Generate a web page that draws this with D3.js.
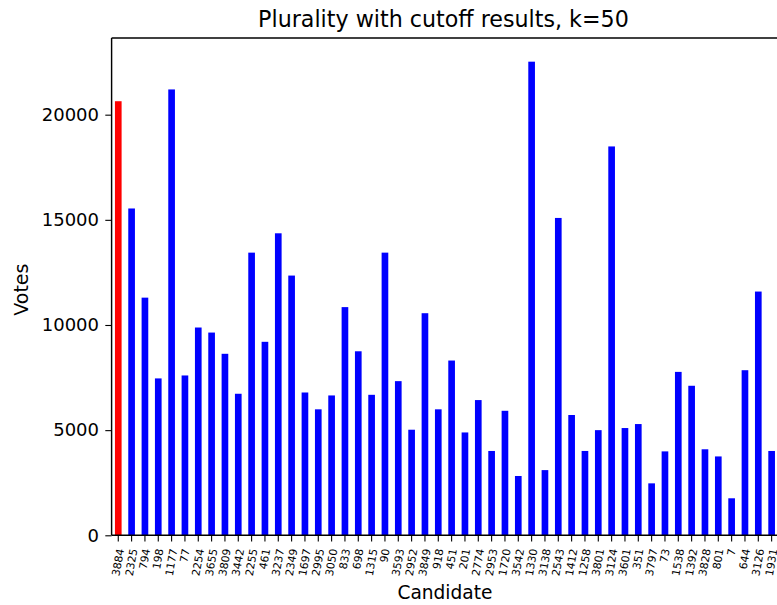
<!DOCTYPE html>
<html>
<head>
<meta charset="utf-8">
<script src="https://cdn.jsdelivr.net/npm/d3@7"></script>
<style>
  html, body { margin: 0; padding: 0; background: #fff; overflow: hidden; }
  svg { display: block; font-family: "DejaVu Sans", sans-serif; }
</style>
</head>
<body>
<svg id="chart" width="777" height="605"></svg>
<script>
const candidates = ["3884","2325","794","198","1177","77","2254","3655","3809","3442",
  "2255","461","3237","2349","1697","2995","3050","833","698","1315",
  "90","3593","2952","3849","918","451","201","2774","2953","1720",
  "3542","1330","3138","2543","1412","1258","3801","3124","3601","351",
  "3797","73","1538","1392","3828","801","7","644","3126","1931"];
const votes = [20640,15540,11300,7460,21200,7600,9880,9640,8630,6730,
  13440,9200,14360,12350,6790,5990,6650,10850,8750,6680,
  13440,7330,5020,10560,5990,8310,4890,6430,4010,5920,
  2820,22520,3100,15090,5720,4010,5000,18490,5100,5290,
  2470,3990,7770,7110,4090,3750,1760,7850,11590,4010];
const yTicks = [0, 5000, 10000, 15000, 20000];
const winnerIndex = 0;
const titleText = "Plurality with cutoff results, k=50";
const xLabel = "Candidate";
const yLabel = "Votes";

(function () {
const svg = d3.select("#chart");
const mLeft = 111.6, mRight = 778.3, mTop = 38, mBottom = 535.3;

const x = d3.scaleBand().domain(candidates).range([mLeft, mRight])
  .paddingInner(0.5).paddingOuter(0.25);
const y = d3.scaleLinear().domain([0, d3.max(votes) * 1.05]).range([mBottom, mTop]);

// bars
svg.append("g").selectAll("rect").data(candidates).join("rect")
  .attr("x", d => x(d))
  .attr("width", x.bandwidth())
  .attr("y", (d, i) => y(votes[i]))
  .attr("height", (d, i) => y(0) - y(votes[i]))
  .attr("fill", (d, i) => i === winnerIndex ? "#ff0000" : "#0000ff");

// y axis
const yAxis = d3.axisLeft(y).tickValues(yTicks).tickFormat(d3.format("d"))
  .tickSize(6.3).tickPadding(6.3);
const gy = svg.append("g").attr("transform", `translate(${mLeft},0)`).call(yAxis);
gy.select(".domain").remove();
gy.selectAll(".tick line").attr("stroke", "#000").attr("stroke-width", 1.1);
gy.selectAll(".tick text").attr("font-size", 18).attr("fill", "#000")
  .attr("font-family", "DejaVu Sans");

// x axis
const xAxis = d3.axisBottom(x).tickSize(6.3).tickFormat("");
const gx = svg.append("g").attr("transform", `translate(0,${mBottom})`).call(xAxis);
gx.select(".domain").remove();
gx.selectAll(".tick line").attr("stroke", "#000").attr("stroke-width", 1.1);

// rotated x tick labels (rotation 80)
const lab = svg.append("g");
candidates.forEach(c => {
  const cx = x(c) + x.bandwidth() / 2;
  const t = lab.append("text")
    .attr("font-size", 10.8)
    .attr("font-family", "DejaVu Sans")
    .attr("text-anchor", "end")
    .attr("dominant-baseline", "central")
    .attr("fill", "#000")
    .text(c);
  const L = t.node().getComputedTextLength();
  const ang = 80 * Math.PI / 180;
  const px = cx + 0.5 * L * Math.cos(ang);
  const py = mBottom + 6.3 + 6.3 + 0.9;
  t.attr("transform", `translate(${px},${py}) rotate(-80)`);
});

// spines
const sp = svg.append("g").attr("stroke", "#000").attr("stroke-width", 1.44).attr("fill", "none");
sp.append("line").attr("x1", mLeft).attr("x2", mLeft).attr("y1", mTop).attr("y2", mBottom);
sp.append("line").attr("x1", mLeft).attr("x2", mRight).attr("y1", mBottom).attr("y2", mBottom);
sp.append("line").attr("x1", mLeft).attr("x2", mRight).attr("y1", mTop).attr("y2", mTop);
sp.append("line").attr("x1", mRight).attr("x2", mRight).attr("y1", mTop).attr("y2", mBottom);

// title
svg.append("text").attr("x", (mLeft + mRight) / 2 - 1.5).attr("y", 26.7)
  .attr("text-anchor", "middle").attr("font-size", 22.2).attr("fill", "#000")
  .text(titleText);

// axis labels
svg.append("text").attr("x", (mLeft + mRight) / 2).attr("y", 599)
  .attr("text-anchor", "middle").attr("font-size", 18.6).attr("fill", "#000")
  .text(xLabel);
svg.append("text").attr("transform", `translate(28,${(mTop + mBottom) / 2 + 3}) rotate(-90)`)
  .attr("text-anchor", "middle").attr("font-size", 19).attr("fill", "#000")
  .text(yLabel);
})();
</script>
</body>
</html>
